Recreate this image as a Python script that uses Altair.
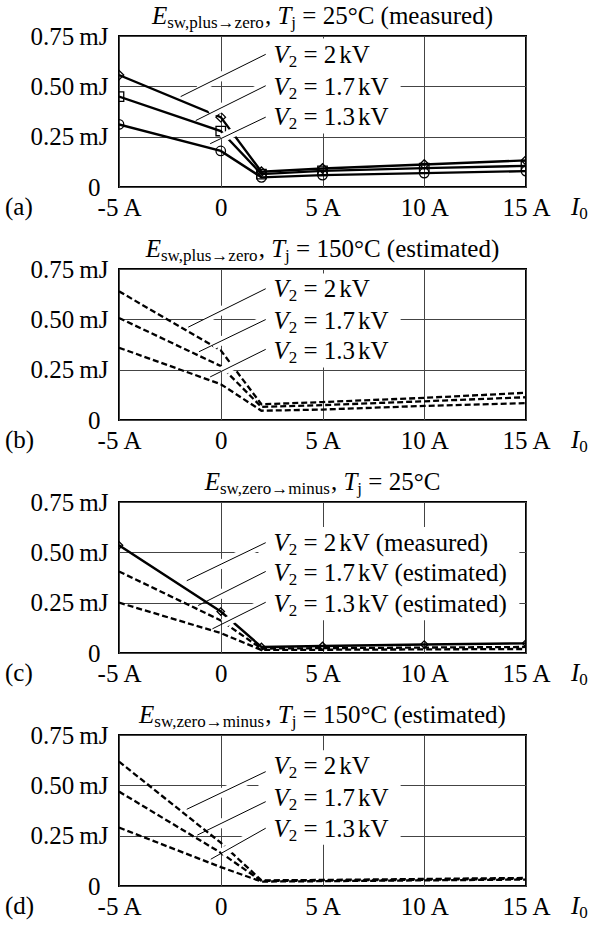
import altair as alt
import pandas as pd

# ---------------- data ----------------
I0_VALUES = [-5, 0, 2, 5, 10, 15]
VOLTAGES = ["2 kV", "1.7 kV", "1.3 kV"]

# (a) E_sw,plus->zero, Tj = 25 C (measured)
A_2KV = [0.556, 0.347, 0.076, 0.092, 0.112, 0.132]
A_17KV = [0.449, 0.278, 0.064, 0.080, 0.094, 0.105]
A_13KV = [0.311, 0.179, 0.048, 0.059, 0.069, 0.079]
# (b) E_sw,plus->zero, Tj = 150 C (estimated)
B_2KV = [0.639, 0.346, 0.078, 0.089, 0.110, 0.135]
B_17KV = [0.507, 0.268, 0.065, 0.074, 0.093, 0.113]
B_13KV = [0.359, 0.178, 0.046, 0.052, 0.070, 0.084]
# (c) E_sw,zero->minus, Tj = 25 C
C_2KV = [0.535, 0.206, 0.030, 0.035, 0.042, 0.048]
C_17KV = [0.405, 0.162, 0.022, 0.024, 0.027, 0.030]
C_13KV = [0.250, 0.099, 0.015, 0.016, 0.018, 0.020]
# (d) E_sw,zero->minus, Tj = 150 C (estimated)
D_2KV = [0.618, 0.215, 0.028, 0.030, 0.035, 0.040]
D_17KV = [0.469, 0.165, 0.025, 0.027, 0.031, 0.036]
D_13KV = [0.290, 0.094, 0.022, 0.024, 0.028, 0.032]

X_TICKS = [-5, 0, 5, 10, 15]
X_TICK_LABELS = ["-5\u2009A", "0", "5\u2009A", "10\u2009A", "15\u2009A"]
Y_TICKS = [0, 0.25, 0.5, 0.75]
Y_TICK_LABELS = ["0", "0.25\u2009mJ", "0.50\u2009mJ", "0.75\u2009mJ"]

# annotation rows (label baselines, in mJ) and leader lines (A, mJ)
ROW_X = 2.59
LEAD_X2 = 2.21
ROWS_A = [0.618, 0.459, 0.306]
ROWS_B = [0.609, 0.453, 0.301]
ROWS_C = [0.507, 0.356, 0.203]
ROWS_D = [0.555, 0.398, 0.244]
LEAD_A_X1 = [-1.97, -1.23, -0.52]; LEAD_A_Y1 = [0.449, 0.330, 0.215]; LEAD_A_Y2 = [0.659, 0.503, 0.347]
LEAD_B_X1 = [-1.60, -1.07, -0.52]; LEAD_B_Y1 = [0.461, 0.339, 0.214]; LEAD_B_Y2 = [0.652, 0.499, 0.351]
LEAD_C_X1 = [-1.67, -1.11, -0.41]; LEAD_C_Y1 = [0.359, 0.236, 0.120]; LEAD_C_Y2 = [0.548, 0.405, 0.252]
LEAD_D_X1 = [-1.67, -1.15, -0.49]; LEAD_D_Y1 = [0.381, 0.253, 0.133]; LEAD_D_Y2 = [0.568, 0.419, 0.287]

# ---------------- layout helpers ----------------
W, H = 407, 151
XMIN, XMAX, YMIN, YMAX = -5, 15, 0, 0.75
XS = W / (XMAX - XMIN)
YS = H / (YMAX - YMIN)
FONT = "Liberation Serif"
F, FSUB, SUB_DY = 25, 17, 4
THIN = '\u2009'

def px2x(px):
    return XMIN + px / XS

def py2y(py):
    return YMAX - py / YS

TIMES = {' ': 250, ',': 250, '.': 250, '=': 564, '°': 400, 'C': 667, '(': 333, ')': 333,
         'a': 444, 'c': 444, 'd': 500, 'e': 444, 'i': 278, 'j': 278, 'k': 500, 'l': 278,
         'm': 778, 'n': 500, 'o': 500, 'p': 500, 'r': 333, 's': 389, 't': 278, 'u': 500,
         'w': 722, 'z': 444, '\u2192': 1000, 'V': 722, 'A': 722, 'J': 389, '-': 333,
         THIN: 120, 'v': 500, 'b': 500, 'h': 500, 'g': 500, 'f': 333, 'y': 500}
TIMES_IT = {'E': 611, 'T': 556, 'V': 611, 'I': 333}

def text_w(s, size, italic=False):
    tot = 0
    for c in s:
        if italic and c in TIMES_IT:
            tot += TIMES_IT[c]
        elif c.isdigit():
            tot += 500
        else:
            tot += TIMES.get(c, 500)
    return tot * size / 1000.0

def rich_width(segs, size=F, sub=FSUB):
    return sum(text_w(t, sub if k == 's' else size, k == 'i') for t, k in segs)

def rich(segs, px0, py0, size=F, sub=FSUB):
    out = []
    px = px0
    for text, kind in segs:
        fs = sub if kind == 's' else size
        it = kind == 'i'
        dy = SUB_DY if kind == 's' else 0
        lead = len(text) - len(text.lstrip(' ' + THIN))
        out.append(dict(tx=px2x(px + text_w(text[:lead], fs, it)), ty=py2y(py0 + dy),
                        t=text.strip(' ' + THIN), fs=fs, it=it))
        px += text_w(text, fs, it)
    return out

XSC = alt.Scale(domain=[XMIN, XMAX], nice=False, zero=False)
YSC = alt.Scale(domain=[YMIN, YMAX], nice=False, zero=False)

def label_expr(vals, labels):
    expr = "''"
    for v, l in reversed(list(zip(vals, labels))):
        expr = f"datum.value == {v} ? '{l}' : {expr}"
    return expr

X_AXIS = alt.Axis(values=X_TICKS, labelExpr=label_expr(X_TICKS, X_TICK_LABELS), title=None,
                  labelPadding=28, labelBaseline='alphabetic', labelFlush=False, labelOverlap=False,
                  labelAlign='center', grid=True, ticks=False, domain=False)
Y_AXIS = alt.Axis(values=Y_TICKS, labelExpr=label_expr(Y_TICKS, Y_TICK_LABELS), title=None,
                  labelPadding={"condition": {"test": "datum.value == 0", "value": 19}, "value": 11},
                  labelBaseline='middle', labelFlush=False, labelOverlap=False,
                  labelAlign='right', grid=True, ticks=False, domain=False)

def X(field):
    return alt.X(field, scale=XSC, axis=X_AXIS)

def Y(field):
    return alt.Y(field, scale=YSC, axis=Y_AXIS)


def text_layers(rows):
    df = pd.DataFrame(rows)
    layers = []
    for italic in (False, True):
        sub = df[df['it'] == italic]
        if len(sub) == 0:
            continue
        layers.append(
            alt.Chart(sub).mark_text(align='left', baseline='alphabetic', font=FONT,
                                     fontStyle='italic' if italic else 'normal', color='black')
            .encode(x=X('tx:Q'), y=Y('ty:Q'), text='t:N',
                    size=alt.Size('fs:Q', scale=None, legend=None)))
    return layers


def make_panel(tag, title_segs, vals, solid, markers, suffixes, rows_y,
               lx1, ly1, ly2, anchor=False, msize=70):
    df = pd.DataFrame([{'V': v, 'I0': x, 'E': e}
                       for v, vs in zip(VOLTAGES, vals) for x, e in zip(I0_VALUES, vs)])
    base = alt.Chart(df)
    layers = []

    # white box behind the labels
    row_segs = [[("V", 'i'), ("2", 's'), (" = " + v.split(' ')[0], 'n'),
                 (THIN + v.split(' ')[1] + s, 'n')]
                for v, s in zip(VOLTAGES, suffixes)]
    maxw = max(rich_width(r) for r in row_segs)
    box = pd.DataFrame([{'x1': ROW_X - 15 / XS, 'x2': ROW_X + (maxw + 12) / XS,
                         'y1': rows_y[0] + 24 / YS, 'y2': rows_y[-1] - 8 / YS}])
    layers.append(alt.Chart(box).mark_rect(color='white').encode(
        x=X('x1:Q'), x2='x2:Q', y=Y('y1:Q'), y2='y2:Q'))

    dashed = [v for v in VOLTAGES if v not in solid]
    if dashed:
        layers.append(base.transform_filter(alt.FieldOneOfPredicate(field='V', oneOf=dashed))
                      .mark_line(color='black', strokeWidth=2.3, strokeDash=[6, 3], clip=True)
                      .encode(x=X('I0:Q'), y=Y('E:Q'), detail='V:N'))
    if solid:
        layers.append(base.transform_filter(alt.FieldOneOfPredicate(field='V', oneOf=solid))
                      .mark_line(color='black', strokeWidth=2.4, clip=True)
                      .encode(x=X('I0:Q'), y=Y('E:Q'), detail='V:N'))
    if markers:
        layers.append(base.transform_filter(alt.FieldOneOfPredicate(field='V', oneOf=markers))
                      .mark_point(filled=False, color='black', strokeWidth=1.3, size=msize,
                                  opacity=1, clip=True)
                      .encode(x=X('I0:Q'), y=Y('E:Q'),
                              shape=alt.Shape('V:N', scale=alt.Scale(domain=VOLTAGES,
                                              range=['diamond', 'square', 'circle']),
                                              legend=None)))

    # leader lines with white halo
    lead = pd.DataFrame({'x1': lx1, 'y1': ly1, 'x2': [LEAD_X2] * 3, 'y2': ly2})
    halo = lead.copy()
    halo['x1'] = lead['x1'] + 0.2 * (lead['x2'] - lead['x1'])
    halo['y1'] = lead['y1'] + 0.2 * (lead['y2'] - lead['y1'])
    layers.append(alt.Chart(halo).mark_rule(color='white', strokeWidth=9, strokeCap='butt').encode(
        x=X('x1:Q'), x2='x2:Q', y=Y('y1:Q'), y2='y2:Q'))
    layers.append(alt.Chart(lead).mark_rule(color='black', strokeWidth=1).encode(
        x=X('x1:Q'), x2='x2:Q', y=Y('y1:Q'), y2='y2:Q'))

    rows = []
    for segs, ry in zip(row_segs, rows_y):
        rows += rich(segs, (ROW_X - XMIN) * XS, (YMAX - ry) * YS)
    # title, centred over the plot
    tw = rich_width(title_segs)
    rows += rich(title_segs, W / 2 - tw / 2, -12)
    # panel tag and axis name
    rows += rich([("(" + tag + ")", 'n')], -114, H + 28)
    rows += rich([("I", 'i'), ("0", 's')], 452, H + 28)
    layers += text_layers(rows)

    if anchor:
        anc = pd.DataFrame([{'x1': px2x(-118), 'x2': px2x(-117), 'y1': py2y(-35), 'y2': py2y(-34)}])
        layers.append(alt.Chart(anc).mark_rect(color='white').encode(
            x=X('x1:Q'), x2='x2:Q', y=Y('y1:Q'), y2='y2:Q'))

    return alt.layer(*layers).properties(width=W, height=H)


def title(sub, rest):
    return [("E", 'i'), ("sw," + sub, 's'), (", ", 'n'), ("T", 'i'), ("j", 's'), (rest, 'n')]

pa = make_panel('a', title("plus\u2192zero", " = 25°C (measured)"), [A_2KV, A_17KV, A_13KV],
                solid=VOLTAGES, markers=VOLTAGES, suffixes=["", "", ""], rows_y=ROWS_A,
                lx1=LEAD_A_X1, ly1=LEAD_A_Y1, ly2=LEAD_A_Y2, anchor=True, msize=90)
pb = make_panel('b', title("plus\u2192zero", " = 150°C (estimated)"), [B_2KV, B_17KV, B_13KV],
                solid=[], markers=[], suffixes=["", "", ""], rows_y=ROWS_B,
                lx1=LEAD_B_X1, ly1=LEAD_B_Y1, ly2=LEAD_B_Y2)
pc = make_panel('c', title("zero\u2192minus", " = 25°C"), [C_2KV, C_17KV, C_13KV],
                solid=["2 kV"], markers=["2 kV"],
                suffixes=[" (measured)", " (estimated)", " (estimated)"], rows_y=ROWS_C,
                lx1=LEAD_C_X1, ly1=LEAD_C_Y1, ly2=LEAD_C_Y2, msize=55)
pd_ = make_panel('d', title("zero\u2192minus", " = 150°C (estimated)"), [D_2KV, D_17KV, D_13KV],
                 solid=[], markers=[], suffixes=["", "", ""], rows_y=ROWS_D,
                 lx1=LEAD_D_X1, ly1=LEAD_D_Y1, ly2=LEAD_D_Y2)

chart = alt.vconcat(pa, pb, pc, pd_, spacing=82, bounds='flush').properties(
    padding=0, background='white'
).configure_view(stroke='black', strokeWidth=2).configure_axis(
    labelFont=FONT, labelFontSize=F, labelColor='black', ticks=False, tickSize=0,
    domain=False, grid=True, gridColor='#444', gridWidth=1
)

chart.save("out.html", embed_options={"renderer": "svg", "actions": False})
